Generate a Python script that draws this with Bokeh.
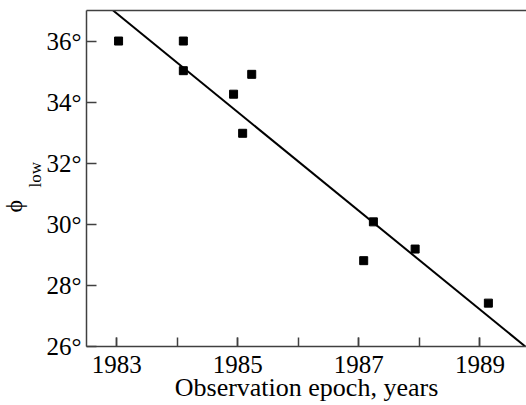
from bokeh.plotting import figure
from bokeh.models import (LinearAxis, FixedTicker, PrintfTickFormatter, Title,
                          Range1d)
from bokeh.embed import file_html
from bokeh.resources import INLINE

# Latitude of the low-latitude boundary vs. observation epoch
years = [1983.03, 1984.10, 1984.10, 1984.93, 1985.23, 1985.08,
         1987.08, 1987.24, 1987.93, 1989.14]
phi_low = [36.0, 36.0, 35.03, 34.26, 34.91, 32.98,
           28.81, 30.08, 29.19, 27.42]

# Linear trend drawn across the panel
fit_years = [1982.94, 1989.75]
fit_phi = [37.0, 26.0]

x_major = [1983, 1985, 1987, 1989]
x_minor = [1983, 1984, 1985, 1986, 1987, 1988, 1989]
y_major = [26, 28, 30, 32, 34, 36]

FONT = "Liberation Serif"
AXIS_COLOR = "#404040"

p = figure(width=526, height=405, output_backend="svg", toolbar_location=None,
           x_range=Range1d(1982.5, 1989.77), y_range=Range1d(26, 37),
           x_axis_type=None, y_axis_type=None,
           min_border_left=86, min_border_right=0,
           min_border_top=10, min_border_bottom=59)
p.outline_line_color = None
p.xgrid.visible = False
p.ygrid.visible = False
p.background_fill_color = "white"
p.border_fill_color = "white"

# bottom axis
xa = LinearAxis(ticker=FixedTicker(ticks=x_major, minor_ticks=x_minor),
                axis_label="Observation epoch, years")
xa.axis_line_color = AXIS_COLOR
xa.axis_line_width = 1.5
xa.major_tick_in = 9
xa.major_tick_out = 0
xa.minor_tick_in = 9
xa.minor_tick_out = 0
xa.major_tick_line_color = AXIS_COLOR
xa.minor_tick_line_color = AXIS_COLOR
xa.major_tick_line_width = 1.5
xa.minor_tick_line_width = 1.5
xa.major_label_text_font = FONT
xa.major_label_text_font_size = "25px"
xa.major_label_text_color = "black"
xa.major_label_standoff = 9
xa.axis_label_text_font = FONT
xa.axis_label_text_font_size = "26px"
xa.axis_label_text_font_style = "normal"
xa.axis_label_text_color = "black"
xa.axis_label_standoff = -3
p.add_layout(xa, "below")

# left axis
ya = LinearAxis(ticker=FixedTicker(ticks=y_major),
                formatter=PrintfTickFormatter(format="%d°"))
ya.axis_line_color = AXIS_COLOR
ya.axis_line_width = 1.5
ya.major_tick_in = 10
ya.major_tick_out = 0
ya.minor_tick_line_color = None
ya.major_tick_line_color = AXIS_COLOR
ya.major_tick_line_width = 1.5
ya.major_label_text_font = FONT
ya.major_label_text_font_size = "25px"
ya.major_label_text_color = "black"
ya.major_label_standoff = 5
p.add_layout(ya, "left")

# top border line
ta = LinearAxis(ticker=FixedTicker(ticks=[]))
ta.axis_line_color = AXIS_COLOR
ta.axis_line_width = 1.5
ta.major_tick_in = 0
ta.major_tick_out = 0
ta.minor_tick_line_color = None
ta.major_label_standoff = 0
p.add_layout(ta, "above")

# y-axis title: phi with subscript "low", as two vertical side titles
p.add_layout(Title(text="low", align="left", offset=159, standoff=-3,
                   text_font=FONT, text_font_size="17px",
                   text_font_style="normal", text_color="black"), "left")
p.add_layout(Title(text="ϕ", align="left", offset=134, standoff=-3,
                   text_font=FONT, text_font_size="24px",
                   text_font_style="normal", text_color="black"), "left")

p.line(fit_years, fit_phi, line_color="black", line_width=2)
p.scatter(years, phi_low, marker="square", size=8,
          fill_color="black", line_color="black")

open("out.html", "w").write(file_html(p, INLINE))
